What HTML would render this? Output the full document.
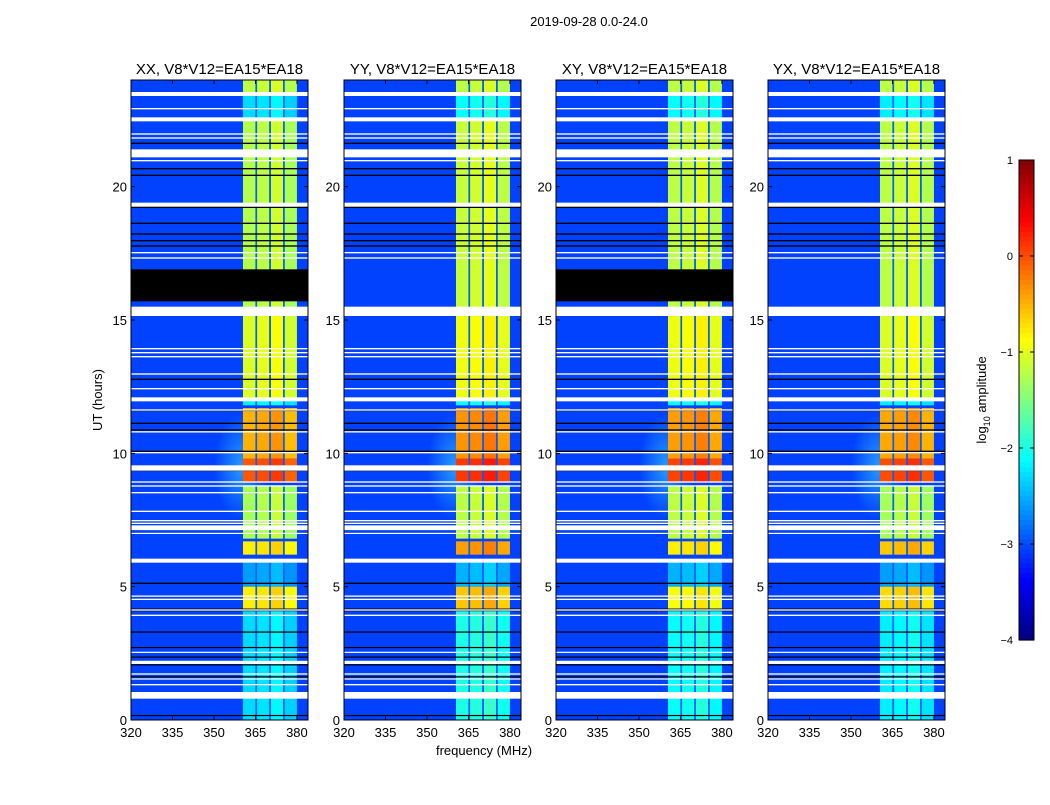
<!DOCTYPE html>
<html><head><meta charset="utf-8"><style>
body{margin:0;background:#fff;}
svg text{font-family:"Liberation Sans","DejaVu Sans",sans-serif;}
</style></head><body>
<svg id="fig" width="1050" height="800" viewBox="0 0 1050 800" xmlns="http://www.w3.org/2000/svg">
<defs><radialGradient id="glowg"><stop offset="0" stop-color="#30b0ff" stop-opacity="0.8"/><stop offset="1" stop-color="#30b0ff" stop-opacity="0"/></radialGradient></defs>
<rect width="1050" height="800" fill="#fff"/>
<text x="589" y="26" font-size="13" text-anchor="middle">2019-09-28 0.0-24.0</text>
<text x="0" y="0" font-size="13" text-anchor="middle" transform="translate(102,400) rotate(-90)">UT (hours)</text>
<text x="484" y="755" font-size="13" text-anchor="middle">frequency (MHz)</text>
<g id="panels"></g>
<g id="cbar"></g>
</svg>
<script>
const panelTitles=["XX, V8*V12=EA15*EA18","YY, V8*V12=EA15*EA18","XY, V8*V12=EA15*EA18","YX, V8*V12=EA15*EA18"];
const panelLefts=[131,344,556,768];
const xTicks=[320,335,350,365,380];
const yTicks=[0,5,10,15,20];
const cbarTicks=[1,0,-1,-2,-3,-4];
const subbands=[[360.5,365],[365.5,370],[370.5,375],[375.5,380]];
const subbandOffset=[0,0.05,0.15,-0.05];
// band segments [startHour,endHour,log amplitude] per panel
const bandXX=[[23.5,24,-1.2],[22.5,23.5,-2.3],[15.3,22.5,-1.25],[12,15.3,-1.05],[11.8,12,-2.2],[9.8,11.7,-0.5],[8.9,9.8,-0.05],[6.8,8.8,-1.3],[6.2,6.7,-0.8],[5.0,6.0,-2.6],[4.1,5.0,-0.8],[0,4.1,-2.3]];
const bandYY=[[23.5,24,-1.2],[22.5,23.5,-2.1],[15.3,22.5,-1.15],[12,15.3,-0.95],[11.8,12,-2.1],[9.8,11.7,-0.35],[8.9,9.8,0.1],[6.8,8.8,-1.2],[6.2,6.7,-0.4],[5.0,6.0,-2.5],[4.1,5.0,-0.6],[0,4.1,-2.0]];
const bandXY=[[23.5,24,-1.2],[22.5,23.5,-2.1],[15.3,22.5,-1.2],[12,15.3,-0.95],[11.8,12,-2.1],[9.8,11.7,-0.4],[8.9,9.8,0.05],[6.8,8.8,-1.2],[6.2,6.7,-0.8],[5.0,6.0,-2.5],[4.1,5.0,-0.9],[0,4.1,-2.1]];
const bandYX=[[23.5,24,-1.2],[22.5,23.5,-2.2],[15.3,22.5,-1.2],[12,15.3,-1.05],[11.8,12,-2.2],[9.8,11.7,-0.45],[8.9,9.8,0],[6.8,8.8,-1.3],[6.2,6.7,-0.6],[5.0,6.0,-2.6],[4.1,5.0,-0.7],[0,4.1,-2.2]];
const bands=[bandXX,bandYY,bandXY,bandYX];
const bgLevel=[-3.05,-3.05,-3.05,-3.05];
const whiteGaps=[[23.4,23.55],[22.9,22.95],[22.45,22.6],[21.95,22.0],[21.8,21.85],[21.1,21.4],[20.95,21.0],[19.25,19.4],[17.5,17.55],[17.3,17.35],[15.15,15.5],[13.9,13.95],[13.75,13.8],[13.6,13.65],[12.95,13.0],[12.4,12.45],[11.95,12.1],[11.6,11.65],[10.78,10.83],[10.0,10.05],[9.35,9.55],[8.9,8.95],[8.75,8.8],[8.5,8.55],[7.8,7.85],[7.45,7.5],[7.35,7.4],[7.12,7.3],[6.98,7.02],[5.9,6.05],[4.62,4.67],[4.5,4.55],[4.1,4.15],[3.9,3.95],[2.52,2.56],[2.1,2.22],[1.7,1.75],[1.52,1.56],[1.3,1.35],[0.8,1.05]];
const blackLines=[[21.6,21.65],[20.65,20.7],[20.4,20.45],[19.2,19.25],[18.6,18.65],[18.2,18.25],[17.95,18.0],[17.75,17.8],[12.75,12.8],[11.6,11.63],[11.1,11.15],[10.85,10.9],[10.05,10.1],[9.35,9.38],[5.1,5.15],[4.08,4.18],[3.28,3.32],[2.7,2.74],[2.34,2.38],[2.05,2.09],[1.6,1.64],[0.15,0.19]];
const blackBlock=[[15.7,16.9]];
const hasBlackBlock=[true,false,true,false];

const NS="http://www.w3.org/2000/svg";
const top0=80,bot0=720,pw=177,fMin=320,fMax=384;
function yS(h){return bot0-(h/24)*(bot0-top0);}
function xS(f,left){return left+(f-fMin)/(fMax-fMin)*pw;}
function clamp(v){return Math.max(0,Math.min(1,v));}
function jet(v){const t=clamp((v+4)/5);const r=clamp(1.5-Math.abs(4*t-3)),g=clamp(1.5-Math.abs(4*t-2)),b=clamp(1.5-Math.abs(4*t-1));return `rgb(${Math.round(r*255)},${Math.round(g*255)},${Math.round(b*255)})`;}
function mk(tag,attrs,parent){const e=document.createElementNS(NS,tag);for(const k in attrs)e.setAttribute(k,attrs[k]);parent.appendChild(e);return e;}

const P=document.getElementById('panels');
panelLefts.forEach((L,pi)=>{
  const g=mk('g',{},P);
  
  
  const bg=mk('rect',{x:L,y:top0,width:pw,height:bot0-top0,fill:jet(bgLevel[pi])},g);
  
  
  const glow=mk('ellipse',{cx:xS(360,L),cy:yS(9.5),rx:xS(360,L)-xS(350,L),ry:yS(8.5)-yS(10.5),fill:'url(#glowg)'},g);
  
  
  bands[pi].forEach(seg=>{
    subbands.forEach((sb,si)=>{
      const c=mk('rect',{x:xS(sb[0],L),y:yS(seg[1]),width:xS(sb[1],L)-xS(sb[0],L),height:yS(seg[0])-yS(seg[1]),fill:jet(seg[2]+subbandOffset[si])},g);
      
      
    });
    [[365,365.6],[370,370.6],[375,375.6]].forEach(gp=>{
      const c=mk('rect',{x:xS(gp[0],L),y:yS(seg[1]),width:xS(gp[1],L)-xS(gp[0],L),height:yS(seg[0])-yS(seg[1]),fill:jet(-2.9)},g);
      
      
    });
  });
  if(hasBlackBlock[pi]) blackBlock.forEach(b=>{
    const r=mk('rect',{x:L,y:yS(b[1]),width:pw,height:yS(b[0])-yS(b[1]),fill:'#000'},g);
    
    
  });
  blackLines.forEach(b=>{
    const r=mk('rect',{x:L,y:yS(b[1]),width:pw,height:Math.max(1.2,yS(b[0])-yS(b[1])),fill:'#000'},g);
    
    
  });
  whiteGaps.forEach(b=>{
    const r=mk('rect',{x:L,y:yS(b[1]),width:pw,height:Math.max(1.2,yS(b[0])-yS(b[1])),fill:'#fff'},g);
    
    
  });
  const fr=mk('rect',{x:L,y:top0,width:pw,height:bot0-top0,fill:'none',stroke:'#000','stroke-width':1},g);
  
  
  const t=mk('text',{x:L+pw/2,y:74,'font-size':15,'text-anchor':'middle'},g);
  t.textContent=panelTitles[pi];
  
  
  xTicks.forEach(v=>{
    const x=xS(v,L);
    mk('line',{x1:x,x2:x,y1:bot0,y2:bot0-4,stroke:'#000'},g);
    mk('line',{x1:x,x2:x,y1:top0,y2:top0+4,stroke:'#000'},g);
    const tx=mk('text',{x:x,y:bot0+17,'font-size':13,'text-anchor':'middle'},g);
    tx.textContent=v;
    
    
  });
  yTicks.forEach(v=>{
    const y=yS(v);
    mk('line',{x1:L,x2:L+4,y1:y,y2:y,stroke:'#000'},g);
    mk('line',{x1:L+pw,x2:L+pw-4,y1:y,y2:y,stroke:'#000'},g);
    const ty=mk('text',{x:L-4,y:y+5,'font-size':13,'text-anchor':'end'},g);
    ty.textContent=v;
    
    
  });
});

const C=document.getElementById('cbar');
const cx=1019,cw=15,cTop=160,cBot=640,vMax=1,vMin=-4;
function cY(v){return cTop+(vMax-v)/(vMax-vMin)*(cBot-cTop);}
for(let i=0;i<100;i++){
  const v=vMax-(i+0.5)*(vMax-vMin)/100;
  const r=mk('rect',{x:cx,y:cTop+i*(cBot-cTop)/100,width:cw,height:(cBot-cTop)/100+0.6,fill:jet(v)},C);
  
  
}
const cf=mk('rect',{x:cx,y:cTop,width:cw,height:cBot-cTop,fill:'none',stroke:'#000'},C);


cbarTicks.forEach(v=>{
  const y=cY(v);
  mk('line',{x1:cx,x2:cx+4,y1:y,y2:y,stroke:'#000'},C);
  mk('line',{x1:cx+cw,x2:cx+cw-4,y1:y,y2:y,stroke:'#000'},C);
  const t=mk('text',{x:1013,y:y+4,'font-size':11,'text-anchor':'end'},C);
  t.textContent=v<0?'\u2212'+(-v):String(v);
  
  
});
const cl=mk('text',{'font-size':13,'text-anchor':'middle',transform:'translate(986,400) rotate(-90)'},C);
cl.innerHTML='log<tspan font-size="9" dy="4">10</tspan><tspan dy="-4"> amplitude</tspan>';


</script>
</body></html>
